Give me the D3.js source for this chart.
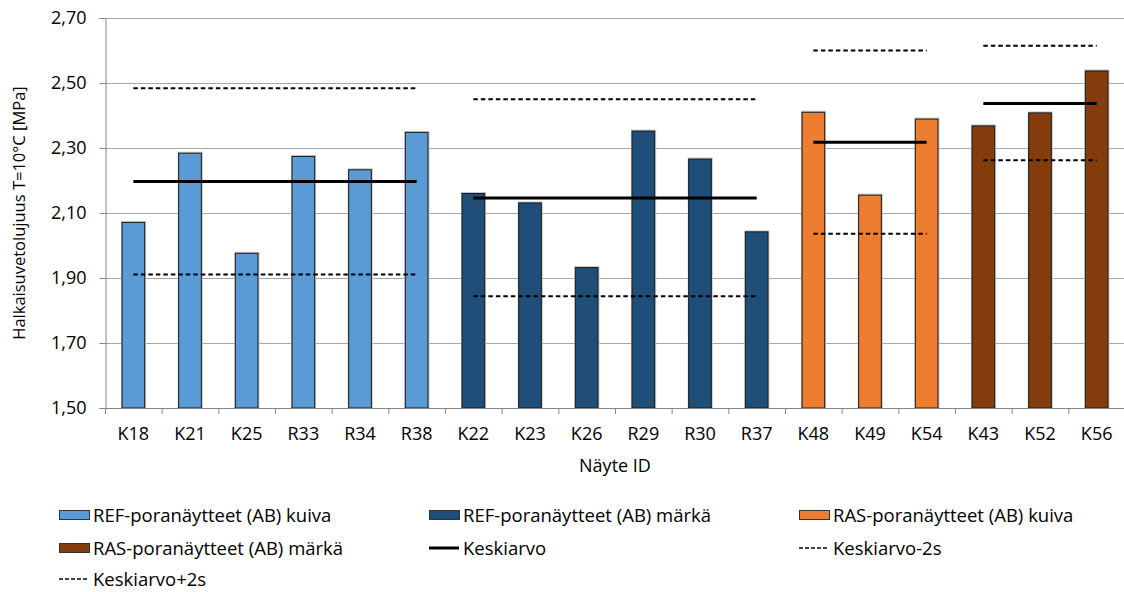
<!DOCTYPE html>
<html>
<head>
<meta charset="utf-8">
<script src="https://cdn.jsdelivr.net/npm/d3@7"></script>
<style>
  html, body { margin: 0; padding: 0; background: #fff; }
  svg { display: block; font-family: "Open Sans", "Noto Sans", sans-serif; }
</style>
</head>
<body>
<svg id="chart" width="1124" height="592"></svg>
<script>
// Sample IDs and their splitting tensile strength (MPa)
const categories = ["K18","K21","K25","R33","R34","R38","K22","K23","K26","R29","R30","R37","K48","K49","K54","K43","K52","K56"];
const values     = [2.071, 2.284, 1.976, 2.274, 2.233, 2.348, 2.160, 2.131, 1.932, 2.352, 2.266, 2.042, 2.410, 2.155, 2.389, 2.368, 2.408, 2.537];
// Which series each sample belongs to
const groupOf    = [0,0,0,0,0,0, 1,1,1,1,1,1, 2,2,2, 3,3,3];

const seriesNames  = ["REF-poranäytteet (AB) kuiva", "REF-poranäytteet (AB) märkä", "RAS-poranäytteet (AB) kuiva", "RAS-poranäytteet (AB) märkä"];
const seriesColors = ["#5B9BD5", "#1F4E79", "#ED7D31", "#843C0C"];

// Group statistics: mean, mean-2s, mean+2s
const groupMean  = [2.197, 2.146, 2.318, 2.437];
const groupMinus = [1.911, 1.844, 2.036, 2.262];
const groupPlus  = [2.484, 2.450, 2.600, 2.615];

const yTicks = [1.5, 1.7, 1.9, 2.1, 2.3, 2.5, 2.7];

const svg = d3.select("#chart");
const plotLeft = 105, plotRight = 1125, plotTop = 18, plotBottom = 408;

const x = d3.scaleBand().domain(categories).range([plotLeft, plotRight]).paddingInner(0.6).paddingOuter(0.3);
const y = d3.scaleLinear().domain([1.5, 2.7]).range([plotBottom, plotTop]);
const fi = d3.formatLocale({decimal: ",", thousands: " ", grouping: [3], currency: ["", "€"]});
const fmt = fi.format(".2f");

// Horizontal gridlines
svg.append("g").selectAll("line").data(yTicks.slice(1)).join("line")
  .attr("x1", plotLeft).attr("x2", plotRight)
  .attr("y1", d => Math.round(y(d)) + 0.5).attr("y2", d => Math.round(y(d)) + 0.5)
  .attr("stroke", "#a6a6a6").attr("stroke-width", 1);

// Y axis
const yAxis = svg.append("g").attr("transform", `translate(${plotLeft + 0.5},0)`)
  .call(d3.axisLeft(y).tickValues(yTicks).tickFormat(fmt).tickSize(6).tickPadding(13));
yAxis.select(".domain").attr("stroke", "#868686");
yAxis.selectAll(".tick line").attr("stroke", "#868686");
yAxis.selectAll(".tick text").attr("font-size", 18).attr("fill", "#000")
  .attr("font-family", "'Open Sans', sans-serif");

// Bars with a faint shadow
const barG = svg.append("g");
barG.selectAll("rect.shadow").data(categories).join("rect")
  .attr("class", "shadow")
  .attr("x", d => x(d) - 1).attr("y", (d, i) => y(values[i]) - 1.5)
  .attr("width", x.bandwidth() + 2.5).attr("height", (d, i) => plotBottom - y(values[i]) + 1.5)
  .attr("fill", "#c8c8c8");
barG.selectAll("rect.bar").data(categories).join("rect")
  .attr("class", "bar")
  .attr("x", d => x(d)).attr("y", (d, i) => y(values[i]))
  .attr("width", x.bandwidth()).attr("height", (d, i) => plotBottom - y(values[i]))
  .attr("fill", (d, i) => seriesColors[groupOf[i]])
  .attr("stroke", "#1a1a1a").attr("stroke-width", 1);

// X axis with ticks at category boundaries
svg.append("line").attr("x1", plotLeft).attr("x2", plotRight)
  .attr("y1", plotBottom + 0.5).attr("y2", plotBottom + 0.5).attr("stroke", "#868686");
const step = x.step();
const boundaries = d3.range(categories.length + 1);
svg.append("g").selectAll("line").data(boundaries).join("line")
  .attr("x1", i => plotLeft + i * step + 0.5).attr("x2", i => plotLeft + i * step + 0.5)
  .attr("y1", plotBottom).attr("y2", plotBottom + 6).attr("stroke", "#868686");
const xAxis = svg.append("g").attr("transform", `translate(0,${plotBottom})`)
  .call(d3.axisBottom(x).tickSize(0).tickPadding(19));
xAxis.select(".domain").remove();
xAxis.selectAll(".tick text").attr("font-size", 18).attr("fill", "#000")
  .attr("font-family", "'Open Sans', sans-serif");

// Group statistic lines spanning first to last sample of each group
const groups = d3.range(seriesNames.length).map(g => {
  const idx = groupOf.map((v, i) => v === g ? i : -1).filter(i => i >= 0);
  const c0 = categories[idx[0]], c1 = categories[idx[idx.length - 1]];
  return {x1: x(c0) + x.bandwidth() / 2, x2: x(c1) + x.bandwidth() / 2, g};
});
const lineG = svg.append("g");
lineG.selectAll("line.mean").data(groups).join("line")
  .attr("class", "mean")
  .attr("x1", d => d.x1).attr("x2", d => d.x2)
  .attr("y1", d => y(groupMean[d.g])).attr("y2", d => y(groupMean[d.g]))
  .attr("stroke", "#000").attr("stroke-width", 3);
lineG.selectAll("line.minus").data(groups).join("line")
  .attr("class", "minus")
  .attr("x1", d => d.x1).attr("x2", d => d.x2)
  .attr("y1", d => y(groupMinus[d.g])).attr("y2", d => y(groupMinus[d.g]))
  .attr("stroke", "#000").attr("stroke-width", 2).attr("stroke-dasharray", "4.5,3");
lineG.selectAll("line.plus").data(groups).join("line")
  .attr("class", "plus")
  .attr("x1", d => d.x1).attr("x2", d => d.x2)
  .attr("y1", d => y(groupPlus[d.g])).attr("y2", d => y(groupPlus[d.g]))
  .attr("stroke", "#000").attr("stroke-width", 2).attr("stroke-dasharray", "4.5,3");

// Axis titles
svg.append("text").attr("transform", "translate(25,213) rotate(-90)")
  .attr("text-anchor", "middle").attr("font-size", 16.5).attr("fill", "#000")
  .text("Halkaisuvetolujuus T=10°C [MPa]");
svg.append("text").attr("x", (plotLeft + plotRight) / 2).attr("y", 472)
  .attr("text-anchor", "middle").attr("font-size", 18).attr("fill", "#000")
  .text("Näyte ID");

// Legend
const legendItems = [
  {label: seriesNames[0], type: "bar", color: seriesColors[0]},
  {label: seriesNames[1], type: "bar", color: seriesColors[1]},
  {label: seriesNames[2], type: "bar", color: seriesColors[2]},
  {label: seriesNames[3], type: "bar", color: seriesColors[3]},
  {label: "Keskiarvo", type: "solid"},
  {label: "Keskiarvo-2s", type: "dash"},
  {label: "Keskiarvo+2s", type: "dash"}
];
const colX = [59, 429, 799], rowY = [515, 548, 579];
const lg = svg.append("g").selectAll("g").data(legendItems).join("g")
  .attr("transform", (d, i) => `translate(${colX[i % 3]},${rowY[Math.floor(i / 3)]})`);
lg.filter(d => d.type === "bar").append("rect")
  .attr("x", 0.5).attr("y", -4.5).attr("width", 30).attr("height", 9)
  .attr("fill", d => d.color).attr("stroke", "#333").attr("stroke-width", 1);
lg.filter(d => d.type === "solid").append("line")
  .attr("x1", 0).attr("x2", 30).attr("y1", 0).attr("y2", 0)
  .attr("stroke", "#000").attr("stroke-width", 3);
lg.filter(d => d.type === "dash").append("line")
  .attr("x1", 0).attr("x2", 30).attr("y1", 0).attr("y2", 0)
  .attr("stroke", "#000").attr("stroke-width", 1.5).attr("stroke-dasharray", "4,2");
lg.append("text").attr("x", 34).attr("y", 6.5)
  .attr("font-size", 18.5).attr("fill", "#000").text(d => d.label);
</script>
</body>
</html>
